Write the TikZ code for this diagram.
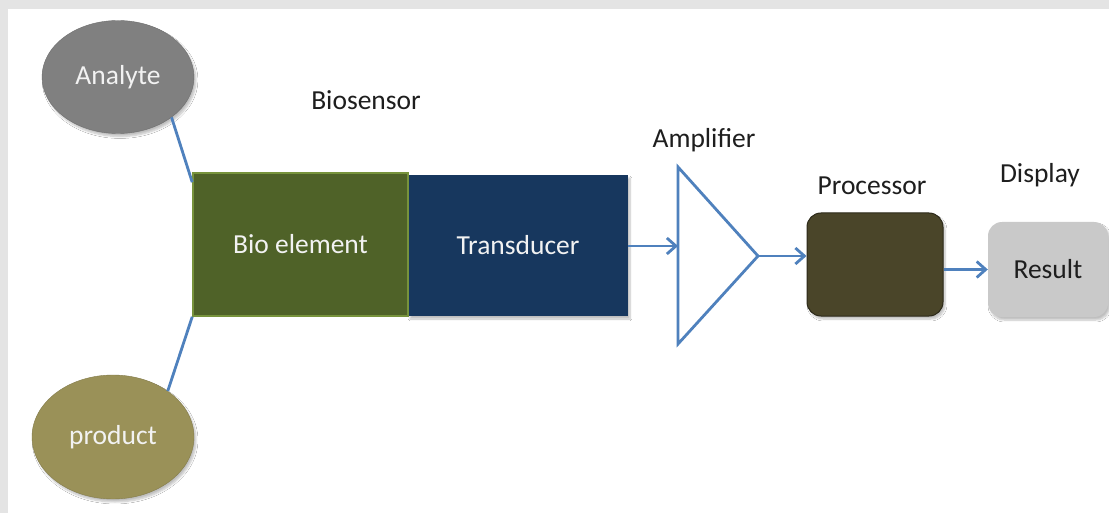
\documentclass[tikz,border=0pt]{standalone}
\usepackage{fontspec}
\setmainfont{Carlito}
\usetikzlibrary{arrows.meta,shapes.geometric,shadows.blur}

\definecolor{framegray}{HTML}{E4E4E4}
\definecolor{linkblue}{HTML}{4F81BD}
\definecolor{analytegray}{HTML}{808080}
\definecolor{productkhaki}{HTML}{9A9158}
\definecolor{biogreen}{HTML}{4F6228}
\definecolor{bioedge}{HTML}{77933C}
\definecolor{transnavy}{HTML}{17375E}
\definecolor{procbrown}{HTML}{4A4529}
\definecolor{resultgray}{HTML}{C9C9C9}
\definecolor{labeltext}{HTML}{1E1E1E}
\definecolor{boxtext}{HTML}{F2F2F2}

\tikzset{
  txt/.style={font=\fontsize{27.5}{32}\selectfont},
  softshadow/.style={blur shadow={shadow xshift=2pt,shadow yshift=-3pt,shadow blur steps=6,shadow opacity=25}},
  blob/.style={ellipse,txt,text=boxtext,softshadow,inner sep=0pt},
  block/.style={rectangle,txt,text=boxtext,inner sep=0pt},
  roundbox/.style={rectangle,rounded corners=14pt,txt,inner sep=0pt,softshadow},
  caption/.style={txt,text=labeltext,inner sep=0pt},
  link/.style={draw=linkblue,line width=2.8pt},
  flow/.style={link,-{Straight Barb[length=9pt,width=16pt,line width=2.8pt]}}
}

\begin{document}
\begin{tikzpicture}[x=1pt,y=-1pt]
  % page frame
  \useasboundingbox (0,0) rectangle (1109,513);
  \fill[framegray] (0,0) rectangle (1109,513);
  \fill[white] (8,9) rectangle (1109,513);

  % inputs
  \node[blob,fill=analytegray,draw=analytegray!85!black,
        minimum width=152pt,minimum height=113pt] (analyte) at (118,77) {Analyte};
  \node[blob,fill=productkhaki,draw=productkhaki!85!black,
        minimum width=162pt,minimum height=124pt] (product) at (113,437) {product};

  % biosensor: bio element + transducer
  \node[block,fill=transnavy,softshadow,
        minimum width=220pt,minimum height=141pt] (trans) at (518,245.5) {Transducer};
  \node[block,fill=biogreen,draw=bioedge,line width=1.5pt,
        minimum width=215pt,minimum height=143pt] (bio) at (300.5,244.5) {Bio element};
  \node[caption] (biolabel) at (366,100) {Biosensor};

  % amplifier symbol
  \coordinate (amptop) at (678,167);
  \coordinate (ampbot) at (678,344);
  \coordinate (ampout) at (758,256);
  \coordinate (ampin) at (678,246);
  \draw[link,line join=miter] (amptop) -- (ampout) -- (ampbot) -- cycle;
  \node[caption] (amplabel) at (704,140) {Amplifier};

  % processor and display
  \node[roundbox,fill=procbrown,draw=procbrown!60!black,line width=1pt,
        minimum width=136pt,minimum height=103pt] (proc) at (875,264.5) {};
  \node[caption] (proclabel) at (872,186) {Processor};
  \node[roundbox,fill=resultgray,text=labeltext,
        minimum width=120pt,minimum height=95pt] (result) at (1048,269.5) {Result};
  \node[caption] (displabel) at (1040,175) {Display};

  % connections
  \draw[link] (analyte.-37) -- ([yshift=-10pt]bio.north west);
  \draw[link] (product.40) -- (bio.south west);
  \draw[flow] (trans.east |- ampin) -- (ampin);
  \draw[flow] (ampout) -- (proc.west |- ampout);
  \draw[flow] (proc.east |- result.west) -- (result.west);
\end{tikzpicture}
\end{document}
